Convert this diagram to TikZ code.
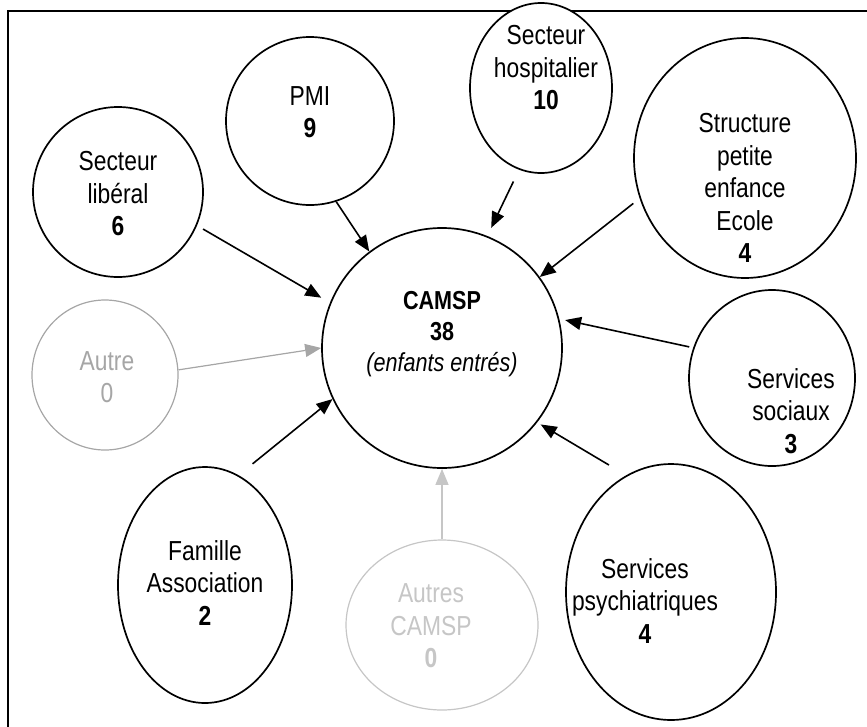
\documentclass[tikz,border=0pt]{standalone}
\usepackage{fontspec}
\setmainfont{Liberation Sans}[FakeStretch=0.83]
\usetikzlibrary{shapes.geometric,arrows.meta}
\begin{document}
\begin{tikzpicture}[x=1pt,y=-1pt,
  bub/.style={ellipse,draw,line width=1.7pt,fill=white,inner sep=0pt},
  txt/.style={align=center,inner sep=0pt,font=\fontsize{27.5}{32.5}\selectfont},
  arr/.style={line width=1.6pt,-{Triangle[length=16pt,width=13pt]}},
  faint/.style={draw=gray!70,text=gray!70},
  fainter/.style={draw=gray!45,text=gray!45}]
\useasboundingbox (0,0) rectangle (867,726);
\draw[line width=2.5pt] (8,11) rectangle (900,760);
% bubbles
\node[bub,minimum width=240pt,minimum height=240pt] (camsp) at (442,348) {};
\node[bub,minimum width=170pt,minimum height=170pt] (lib) at (118,192) {};
\node[bub,minimum width=168pt,minimum height=168pt] (pmi) at (310,121) {};
\node[bub,minimum width=142pt,minimum height=170pt] (hosp) at (541,88) {};
\node[bub,minimum width=222pt,minimum height=240pt] (struct) at (745,158) {};
\node[bub,minimum width=166pt,minimum height=176pt] (soc) at (772,378) {};
\node[bub,minimum width=210pt,minimum height=256pt] (psy) at (671,592) {};
\node[bub,faint,line width=1.2pt,minimum width=146pt,minimum height=150pt] (autre) at (105,375) {};
\node[bub,minimum width=174pt,minimum height=236pt] (fam) at (205,585) {};
\node[bub,fainter,line width=1.2pt,minimum width=192pt,minimum height=170pt] (acamsp) at (442,625) {};
% texts
\node[txt,font=\fontsize{26}{31}\selectfont] (camspT) at (442,334)
  {\textbf{CAMSP}\\\textbf{38}\\\textit{(enfants entrés)}};
\node[txt] (libT) at (118,194) {Secteur\\libéral\\\textbf{6}};
\node[txt] (pmiT) at (310,112) {PMI\\\textbf{9}};
\node[txt] (hospT) at (546,68) {Secteur\\hospitalier\\\textbf{10}};
\node[txt] (structT) at (745,188) {Structure\\petite\\enfance\\Ecole\\\textbf{4}};
\node[txt] (socT) at (791,411) {Services\\sociaux\\\textbf{3}};
\node[txt] (psyT) at (645,601) {Services\\psychiatriques\\\textbf{4}};
\node[txt,text=gray!70] (autreT) at (107,377) {Autre\\0};
\node[txt] (famT) at (205,583) {Famille\\Association\\\textbf{2}};
\node[txt,text=gray!45] (acamspT) at (431,626) {Autres\\CAMSP\\\textbf{0}};
% connectors
\draw[arr,shorten <=7pt,shorten >=10pt] (lib.-23) -- (camsp.158);
\draw[arr] (pmi.-72) -- (camsp.127);
\draw[arr,shorten <=13pt,shorten >=9pt] (hosp.255) -- (camsp.68);
\draw[arr,shorten <=8pt] (struct.201) -- (camsp.36);
\draw[arr,shorten <=4pt,shorten >=6pt] (soc.159) -- (camsp.14);
\draw[arr,shorten <=20pt,shorten >=4pt] (psy.111) -- (camsp.-38);
\draw[arr,shorten <=18pt] (fam.73) -- (camsp.205);
\draw[arr,draw=gray!70,fill=gray!70,line width=1.2pt] (autre.4) -- (camsp.180);
\draw[arr,draw=gray!45,fill=gray!45,line width=1.2pt] (acamsp.90) -- (camsp.-90);
\end{tikzpicture}
\end{document}
